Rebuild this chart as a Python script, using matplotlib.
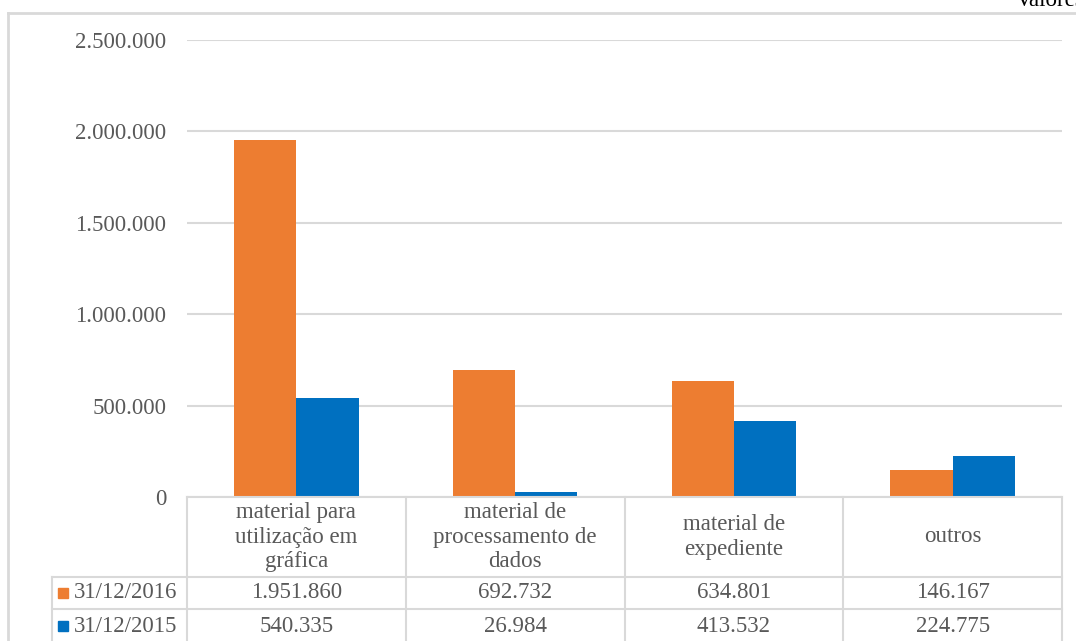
import matplotlib
matplotlib.use("Agg")
import matplotlib.pyplot as plt
import matplotlib.transforms as mtransforms
from matplotlib.ticker import FuncFormatter
import numpy as np

# Data
categories = ["material para\nutilização em\ngráfica",
              "material de\nprocessamento de\ndados",
              "material de\nexpediente",
              "outros"]
series_names = ["31/12/2016", "31/12/2015"]
values_2016 = [1951860, 692732, 634801, 146167]
values_2015 = [540335, 26984, 413532, 224775]
series_colors = ["#ED7D31", "#0070C0"]

W, H = 1076, 641
fig = plt.figure(figsize=(W / 100, H / 100), dpi=100)
plt.rcParams["font.family"] = ["Liberation Serif", "DejaVu Serif"]
TXT = "#595959"
GRID = "#D9D9D9"
FS = 16.5

# pixel transform (origin at top-left)
px = mtransforms.Affine2D().scale(1 / W, -1 / H).translate(0, 1) + fig.transFigure

left, right, top, bottom = 187, 1062, 40, 497
ax = fig.add_axes([left / W, (H - bottom) / H, (right - left) / W, (bottom - top) / H])
ax.set_xlim(-0.5, len(categories) - 0.5)
ax.set_ylim(0, 2500000)
ax.set_yticks(np.arange(0, 2500001, 500000))
ax.yaxis.set_major_formatter(FuncFormatter(lambda v, p: f"{int(v):,}".replace(",", ".")))
ax.tick_params(axis="y", length=0, pad=15, labelsize=FS, labelcolor=TXT)
ax.set_xticks([])
for s in ax.spines.values():
    s.set_visible(False)
ax.grid(axis="y", color=GRID, linewidth=1.5)
ax.set_axisbelow(True)

x = np.arange(len(categories))
bw = 0.285
ax.bar(x - bw / 2, values_2016, width=bw, color=series_colors[0], zorder=3)
ax.bar(x + bw / 2, values_2015, width=bw, color=series_colors[1], zorder=3)

# Data table below the plot
bx = mtransforms.blended_transform_factory(ax.transData, px)
edges = np.arange(len(categories) + 1) - 0.5
row_h = 577
row1 = 609
lw = 1.5
for e in edges:
    fig.add_artist(plt.Line2D([e, e], [bottom, H + 2], transform=bx, color=GRID, lw=lw))
fig.add_artist(plt.Line2D([edges[0], edges[-1]], [bottom, bottom], transform=bx, color=GRID, lw=lw))
for yy in (row_h, row1):
    fig.add_artist(plt.Line2D([52, right], [yy, yy], transform=px, color=GRID, lw=lw))
fig.add_artist(plt.Line2D([52, 52], [row_h, H + 2], transform=px, color=GRID, lw=lw))

for i, cat in enumerate(categories):
    fig.text(i, (bottom + row_h) / 2, cat, transform=bx, ha="center", va="center",
             fontsize=FS, color=TXT, linespacing=1.2)
rows = [values_2016, values_2015]
row_centers = [(row_h + row1) / 2, (row1 + H + 1) / 2 + 0.5]
for r, (vals, yc) in enumerate(zip(rows, row_centers)):
    for i, v in enumerate(vals):
        fig.text(i, yc, f"{v:,}".replace(",", "."), transform=bx, ha="center", va="center",
                 fontsize=FS, color=TXT)
    fig.add_artist(plt.Line2D([63], [yc], transform=px, marker="s", markersize=6.5,
                              color=series_colors[r], linestyle="none"))
    fig.text(74, yc, series_names[r], transform=px, ha="left", va="center",
             fontsize=FS, color=TXT)

# Outer frame
fig.add_artist(plt.Line2D([8, W + 2], [13, 13], transform=px, color=GRID, lw=2))
fig.add_artist(plt.Line2D([8, 8], [13, H + 2], transform=px, color=GRID, lw=2))

fig.text(1016, 6, "Valores", transform=px, ha="left", va="baseline", fontsize=FS, color="black")

fig.savefig("out.png", dpi=100)
